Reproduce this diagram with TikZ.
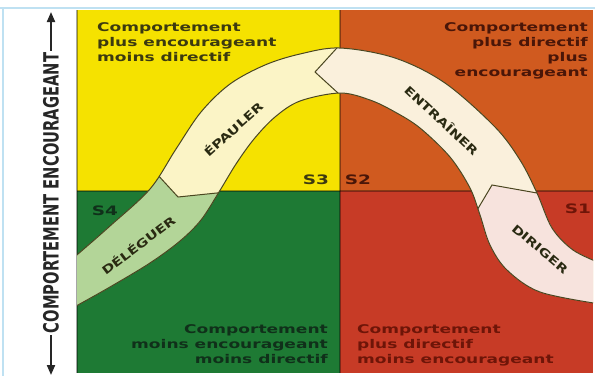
\documentclass[tikz,border=0pt]{standalone}
\usepackage{fontspec}
\newfontfamily\qfont{DejaVu Sans}[FakeStretch=1.42]
\newfontfamily\bfont{DejaVu Sans}[FakeStretch=1.3]
\newfontfamily\axfont{DejaVu Sans}[FakeStretch=0.7]
\usetikzlibrary{arrows.meta}
\definecolor{cyel}{HTML}{F5E200}
\definecolor{corg}{HTML}{D05A1F}
\definecolor{cgrn}{HTML}{1E7A34}
\definecolor{cred}{HTML}{C73B26}
\definecolor{cepa}{HTML}{FBF4C6}
\definecolor{cent}{HTML}{FAF0DC}
\definecolor{cdir}{HTML}{F7E3DD}
\definecolor{cdel}{HTML}{B3D598}
\definecolor{cedge}{HTML}{4A4620}
\definecolor{cframe}{HTML}{BFE1F2}
\definecolor{ttl}{HTML}{3C3A10}
\definecolor{ttr}{HTML}{4A1608}
\definecolor{tbl}{HTML}{10301A}
\definecolor{tbr}{HTML}{6E1508}
\definecolor{tband}{HTML}{2A2A12}
\begin{document}
\begin{tikzpicture}[x=1pt,y=-1pt,
  qtext/.style={inner sep=0pt,font=\qfont\bfseries\fontsize{12}{15}\selectfont},
  slabel/.style={inner sep=0pt,font=\qfont\bfseries\fontsize{13}{13}\selectfont},
  bandlabel/.style={inner sep=0pt,text=tband,font=\bfont\bfseries\fontsize{11.5}{11.5}\selectfont},
  axarrow/.style={-{Triangle[length=10pt,width=8pt]},line width=2pt,draw=black!85},
  midline/.style={line width=1.2pt,draw=black,opacity=0.35},
  bandedge/.style={draw=cedge,line width=1pt}]
\useasboundingbox (0,0) rectangle (595,376);
\fill[white] (0,0) rectangle (595,376);
\draw[cframe,line width=1.5pt] (0,8) -- (595,8);
\draw[cframe,line width=1.5pt] (3,8) -- (3,376);
% quadrants
\fill[cyel] (77,10) rectangle (340,191);
\fill[corg] (340,10) rectangle (593,191);
\fill[cgrn] (77,191) rectangle (340,373);
\fill[cred] (340,191) rectangle (593,373);
\draw[midline] (340,10) -- (340,373);
\draw[midline] (77,191) -- (593,191);
\draw[midline] (77,10) -- (77,373);
% band
\begin{scope}
\clip (77,10) rectangle (593,373);
\begin{scope}
\clip plot[smooth,tension=0.55] coordinates {(66,264) (78,254) (110,226) (150,189) (176,149) (201,112) (230,84) (265,65) (300,54) (340,48) (395,58) (445,83) (495,127) (520,160) (537,193) (552,228) (573,250) (600,263)}
 -- plot[smooth,tension=0.55] coordinates {(600,304) (540,292) (507,270) (490,245) (480,215) (470,188) (450,157) (420,128) (395,112) (370,100) (340,93) (300,101) (275,117) (254,139) (236,164) (219,192) (201,220) (180,241) (150,263) (110,287) (78,305) (66,312)} -- cycle;
\fill[cepa] (0,0) rectangle (600,400);
\fill[cdel] (145,161) -- (178,197) -- (240,190.6) -- (240,400) -- (0,400) -- (0,161) -- cycle;
\fill[cent] (346,38) -- (315,72) -- (350,104) -- (350,400) -- (700,400) -- (700,0) -- (346,0) -- cycle;
\fill[cdir] (460,238) -- (492,185) -- (560,197) -- (700,197) -- (700,400) -- (460,400) -- cycle;
\draw[bandedge] (145,161) -- (178,197) -- (240,190.6);
\draw[bandedge] (346,38) -- (315,72) -- (350,104);
\draw[bandedge] (470,222) -- (492,185) -- (550,195.3);
\end{scope}
\draw[bandedge] plot[smooth,tension=0.55] coordinates {(66,264) (78,254) (110,226) (150,189) (176,149) (201,112) (230,84) (265,65) (300,54) (340,48) (395,58) (445,83) (495,127) (520,160) (537,193) (552,228) (573,250) (600,263)};
\draw[bandedge] plot[smooth,tension=0.55] coordinates {(600,304) (540,292) (507,270) (490,245) (480,215) (470,188) (450,157) (420,128) (395,112) (370,100) (340,93) (300,101) (275,117) (254,139) (236,164) (219,192) (201,220) (180,241) (150,263) (110,287) (78,305) (66,312)};
\end{scope}
% band labels
\node[bandlabel,rotate=42] (epa) at (233,129) {ÉPAULER};
\node[bandlabel,rotate=-43] (ent) at (442,120) {ENTRAÎNER};
\node[bandlabel,rotate=37] (del) at (138,245) {DÉLÉGUER};
\node[bandlabel,rotate=-40] (dir) at (540,249) {DIRIGER};
% S labels
\node[slabel,text=ttl] (s3) at (316,180) {S3};
\node[slabel,text=ttr] (s2) at (358,180) {S2};
\node[slabel,text=tbl] (s4) at (105,211) {S4};
\node[slabel,text=tbr] (s1) at (578,209) {S1};
% quadrant texts
\node[qtext,text=ttl,anchor=north west,align=left] (qtl) at (97,22.5) {Comportement\\plus encourageant\\moins directif};
\node[qtext,text=ttr,anchor=north east,align=right] (qtr) at (588,22.5) {Comportement\\plus directif\\plus\\encourageant};
\node[qtext,text=tbl,anchor=north east,align=right] (qbl) at (328,324.5) {Comportement\\moins encourageant\\moins directif};
\node[qtext,text=tbr,anchor=north west,align=left] (qbr) at (357,324.5) {Comportement\\plus directif\\moins encourageant};
% axis
\node[rotate=90,text=black!85,font=\axfont\bfseries\fontsize{21}{21}\selectfont,inner sep=2pt] (ax) at (51,193) {COMPORTEMENT ENCOURAGEANT};
\coordinate (atop) at (51,12);
\coordinate (abot) at (51,375);
\draw[axarrow] (ax.east) -- (atop);
\draw[axarrow] (ax.west) -- (abot);
\end{tikzpicture}
\end{document}
